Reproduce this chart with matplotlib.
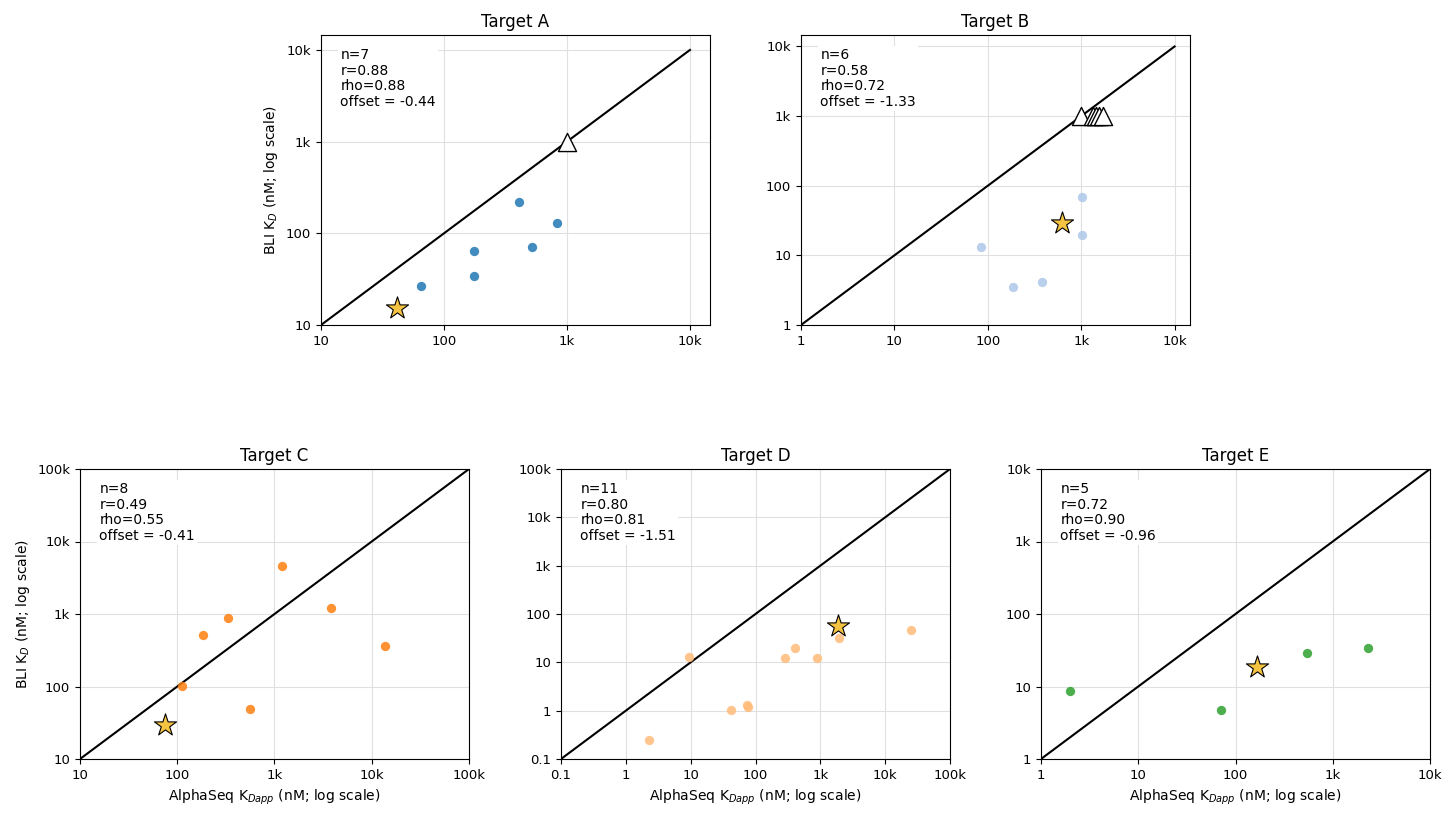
import numpy as np
import matplotlib
matplotlib.use("Agg")
import matplotlib.pyplot as plt
from matplotlib.ticker import FuncFormatter, LogLocator, NullLocator

# --- data (nM) ---
titles = ["Target A", "Target B", "Target C", "Target D", "Target E"]

a_alpha = [65, 175, 175, 407, 523, 830]
a_bli = [26.7, 34.3, 63.5, 217, 71.5, 130]
a_star = ([41.8], [15.4])
a_tri = ([1000], [1000])

b_alpha = [85, 188, 378, 1020, 1020]
b_bli = [13.3, 3.57, 4.08, 70, 19.4]
b_star = ([618], [29.3])
b_tri = ([1000, 1350, 1450, 1550, 1700], [1000, 1000, 1000, 1000, 1000])

c_alpha = [112, 185, 334, 1186, 3820, 13700, 563]
c_bli = [101, 518, 871, 4560, 1197, 361, 49]
c_star = ([75.7], [29.5])

d_alpha = [2.29, 9.35, 42.2, 72.8, 77, 281, 405, 885, 1937, 25000]
d_bli = [0.244, 12.6, 1.05, 1.28, 1.2, 12.2, 19.4, 12.4, 32.3, 47.2]
d_star = ([1870], [57])

e_alpha = [2.0, 70.9, 541, 2316]
e_bli = [8.6, 4.76, 28.9, 34.2]
e_star = ([166], [18.3])

stats = [
    "n=7\nr=0.88\nrho=0.88\noffset = -0.44",
    "n=6\nr=0.58\nrho=0.72\noffset = -1.33",
    "n=8\nr=0.49\nrho=0.55\noffset = -0.41",
    "n=11\nr=0.80\nrho=0.81\noffset = -1.51",
    "n=5\nr=0.72\nrho=0.90\noffset = -0.96",
]

# diagonal extents and axis limits per panel
diag = [(10, 1e4), (1, 1e4), (10, 1e5), (0.1, 1e5), (1, 1e4)]
lims = [(10, 10**4.163), (1, 10**4.165), (10, 1e5), (0.1, 1e5), (1, 1e4)]

colors = ["#1f77b4", "#aec7e8", "#ff7f0e", "#ffbb78", "#2ca02c"]
STAR_COLOR = "#f5c342"

panels = [
    (a_alpha, a_bli, a_star, a_tri),
    (b_alpha, b_bli, b_star, b_tri),
    (c_alpha, c_bli, c_star, None),
    (d_alpha, d_bli, d_star, None),
    (e_alpha, e_bli, e_star, None),
]

# axes rectangles (pixels, top-left corner)
W, H = 1456, 819
boxes = [(321, 35), (801, 35), (80, 469), (561, 469), (1041, 469)]
AW, AH = 389, 290


def fmt(v, pos):
    if v >= 1000:
        return f"{v / 1000:g}k"
    return f"{v:g}"


fig = plt.figure(figsize=(W / 100, H / 100), dpi=100)

for i, (xs, ys, star, tri) in enumerate(panels):
    left, top = boxes[i]
    ax = fig.add_axes([left / W, 1 - (top + AH) / H, AW / W, AH / H])
    ax.set_xscale("log")
    ax.set_yscale("log")

    lo, hi = diag[i]
    ax.plot([lo, hi], [lo, hi], color="black", linewidth=1.5, zorder=2)
    ax.scatter(xs, ys, s=45, color=colors[i], alpha=0.85, linewidths=0, zorder=3)
    if tri is not None:
        ax.scatter(tri[0], tri[1], marker="^", s=170, facecolor="white",
                   edgecolor="black", linewidths=1.0, zorder=4)
    ax.scatter(star[0], star[1], marker="*", s=280, facecolor=STAR_COLOR,
               edgecolor="black", linewidths=0.8, zorder=5)

    ax.set_xlim(*lims[i])
    ax.set_ylim(*lims[i])
    for axis in (ax.xaxis, ax.yaxis):
        axis.set_major_locator(LogLocator(base=10, numticks=12))
        axis.set_minor_locator(NullLocator())
        axis.set_major_formatter(FuncFormatter(fmt))
    ax.tick_params(labelsize=9.5)
    ax.grid(True, color="#e0e0e0", linewidth=0.8)
    ax.set_axisbelow(True)

    ax.set_title(titles[i], fontsize=12)
    ax.text(0.05, 0.955, stats[i], transform=ax.transAxes, fontsize=10,
            va="top", ha="left", linespacing=1.15,
            bbox=dict(facecolor="white", edgecolor="none", pad=1.5), zorder=6)

    if i in (0, 2):
        ax.set_ylabel("BLI K$_D$ (nM; log scale)", fontsize=10)
    if i >= 2:
        ax.set_xlabel("AlphaSeq K$_{Dapp}$ (nM; log scale)", fontsize=10)

fig.savefig("out.png", dpi=100)
